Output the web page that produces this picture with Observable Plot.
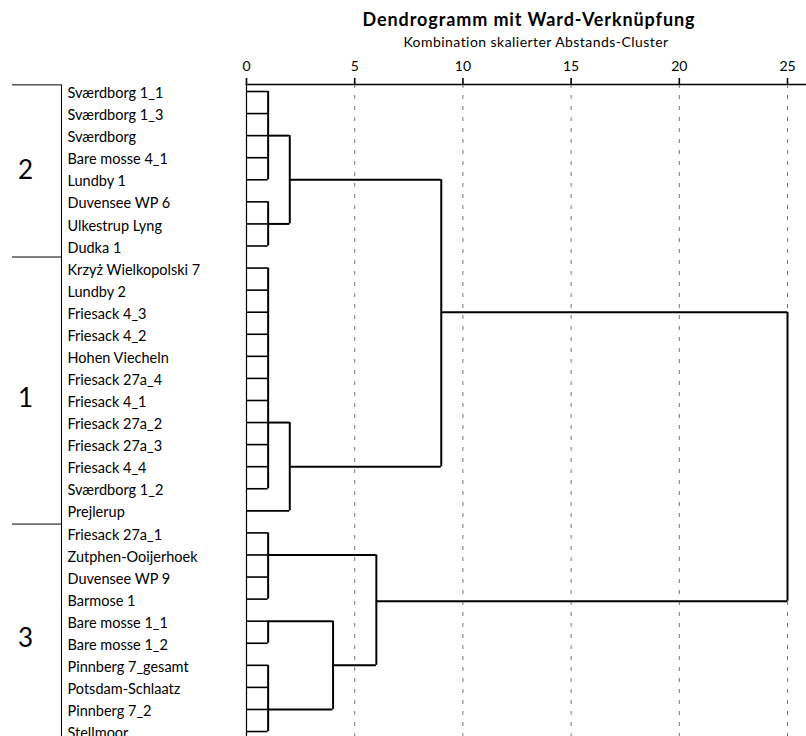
<!DOCTYPE html>
<html>
<head>
<meta charset="utf-8">
<script src="https://cdn.jsdelivr.net/npm/d3@7"></script>
<script src="https://cdn.jsdelivr.net/npm/@observablehq/plot@0.6"></script>
<style>
  html, body { margin: 0; padding: 0; background: #fff; overflow: hidden; }
  #wrap { position: relative; width: 806px; height: 736px; font-family: Lato, "Noto Sans", sans-serif; }
  #title { position: absolute; left: 246px; width: 566px; top: 8px; text-align: center; font-weight: bold; font-size: 18px; letter-spacing: 0.9px; color: #000; }
  #subtitle { position: absolute; left: 246px; width: 580px; top: 33px; text-align: center; font-size: 14px; letter-spacing: 0.45px; color: #000; }
  #chart { position: absolute; left: 0; top: 0; }
</style>
</head>
<body>
<div id="wrap">
  <div id="chart"></div>
  <div id="title">Dendrogramm mit Ward-Verknüpfung</div>
  <div id="subtitle">Kombination skalierter Abstands-Cluster</div>
</div>
<script>
// ---- data ----
const leaves = ["Sværdborg 1_1","Sværdborg 1_3","Sværdborg","Bare mosse 4_1","Lundby 1","Duvensee WP 6","Ulkestrup Lyng","Dudka 1",
  "Krzyż Wielkopolski 7","Lundby 2","Friesack 4_3","Friesack 4_2","Hohen Viecheln","Friesack 27a_4","Friesack 4_1","Friesack 27a_2",
  "Friesack 27a_3","Friesack 4_4","Sværdborg 1_2","Prejlerup","Friesack 27a_1","Zutphen-Ooijerhoek","Duvensee WP 9","Barmose 1",
  "Bare mosse 1_1","Bare mosse 1_2","Pinnberg 7_gesamt","Potsdam-Schlaatz","Pinnberg 7_2","Stellmoor"];
const leafParent = ["A","A","A","A","A","B","B","B",
  "C","C","C","C","C","C","C","C","C","C","C","H",
  "D","D","D","D","E","E","F","F","F","F"];
const clusterIds      = ["A","B","C","D","E","F","G","H","I","J","K","L"];
const clusterHeights  = [1,  1,  1,  1,  1,  1,  2,  2,  4,  6,  9,  25];
const clusterRows     = [2,  6,  15, 21, 24, 28, 4,  17, 26, 23.1, 10, null];
const clusterParents  = ["G","G","H","J","I","I","K","K","J","L","L",null];
const groupLabels     = ["2","1","3"];
const groupLabelRows  = [3.6, 13.9, 24.8];
const groupTopRows    = [-0.3, 7.5, 19.6];
const xTicks          = [0,5,10,15,20,25];

// ---- layout ----
const X0 = 246, X25 = 787, Y0 = 91, ROW = 22.07;
const px2x = p => (p - X0) / (X25 - X0) * 25;

const hOf = id => clusterHeights[clusterIds.indexOf(id)];
const hSegs = [];
const leafSegs = leaves.map((l, i) => ({y: i, x1: 0, x2: hOf(leafParent[i])}));
clusterIds.forEach((id, k) => {
  if (clusterParents[k]) hSegs.push({y: clusterRows[k], x1: clusterHeights[k], x2: hOf(clusterParents[k])});
});
const vSegs = clusterIds.map((id, k) => {
  const rows = [];
  leafParent.forEach((p, i) => { if (p === id) rows.push(i); });
  clusterParents.forEach((p, j) => { if (p === id) rows.push(clusterRows[j]); });
  return {x: clusterHeights[k], y1: d3.min(rows), y2: d3.max(rows)};
});

const chart = Plot.plot({
  width: 806,
  height: 780,
  marginLeft: X0, marginRight: 0, marginTop: 84, marginBottom: 0,
  style: {fontFamily: "Lato, 'Noto Sans', sans-serif", fontSize: "14px", color: "#000", background: "#fff"},
  x: {domain: [0, 25], range: [X0, X25]},
  y: {domain: [0, leaves.length - 1], range: [Y0, Y0 + ROW * (leaves.length - 1)], axis: null},
  marks: [
    Plot.gridX({ticks: xTicks.slice(1), stroke: "#777", strokeOpacity: 1, strokeDasharray: "4,7", strokeWidth: 1}),
    Plot.frame({anchor: "top", stroke: "#000", strokeWidth: 1.6}),
    Plot.frame({anchor: "left", stroke: "#000", strokeWidth: 1.2}),
    Plot.axisX({anchor: "top", ticks: xTicks, tickSize: 7, tickPadding: 7, stroke: "#000", strokeWidth: 1.6, fontSize: 14, label: null, tickFormat: d => String(d)}),
    Plot.ruleY(leafSegs, {y: "y", x1: "x1", x2: "x2", stroke: "#000", strokeWidth: 1.6}),
    Plot.ruleY(hSegs, {y: "y", x1: "x1", x2: "x2", stroke: "#000", strokeWidth: 2}),
    Plot.ruleX(vSegs, {x: "x", y1: "y1", y2: "y2", stroke: "#000", strokeWidth: 2}),
    Plot.text(leaves, {y: (d, i) => i, text: d => d, frameAnchor: "left", dx: 67 - X0, dy: 2, textAnchor: "start", fontSize: 14.5, fill: "#000"}),
    // group brackets
    Plot.ruleY(groupTopRows, {y: d => d, x1: px2x(12), x2: px2x(61), stroke: "#000", strokeWidth: 1}),
    Plot.ruleX([px2x(61)], {x: d => d, y1: groupTopRows[0], y2: 32, stroke: "#000", strokeWidth: 1}),
    Plot.text(groupLabels, {y: (d, i) => groupLabelRows[i], text: d => d, frameAnchor: "left", dx: 25 - X0, textAnchor: "middle", fontSize: 26, fill: "#000"})
  ]
});
document.getElementById("chart").appendChild(chart);
</script>
</body>
</html>
